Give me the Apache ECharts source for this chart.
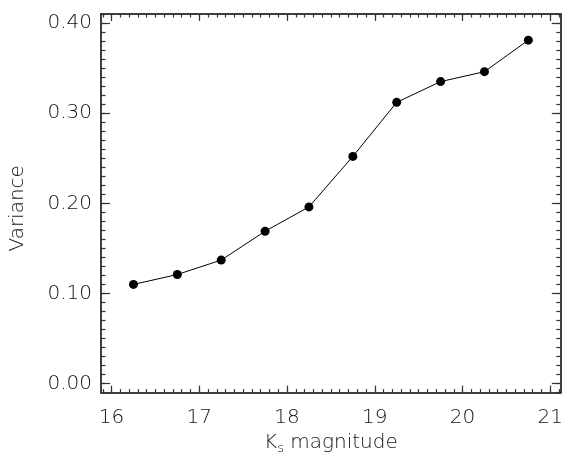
<!DOCTYPE html>
<html>
<head>
<meta charset="utf-8">
<script src="https://cdn.jsdelivr.net/npm/echarts@6/dist/echarts.min.js"></script>
<style>
  html, body { margin: 0; padding: 0; background: #fff; }
  #chart { width: 566px; height: 460px; }
</style>
</head>
<body>
<div id="chart"></div>
<script>
// data
var magnitude = [16.25, 16.75, 17.25, 17.75, 18.25, 18.75, 19.25, 19.75, 20.25, 20.75];
var variance = [0.110, 0.121, 0.137, 0.169, 0.196, 0.252, 0.312, 0.335, 0.346, 0.381];

var xMajor = [16, 17, 18, 19, 20, 21];
var yMajor = [0.00, 0.10, 0.20, 0.30, 0.40];
var xRange = [15.88, 21.12];
var yRange = [-0.01, 0.41];

// minor ticks every 0.1 mag / 0.01 in variance
var xMinor = [];
for (var i = 159; i <= 211; i++) xMinor.push(i / 10);
var yMinor = [];
for (var j = -1; j <= 41; j++) yMinor.push(j / 100);

var ink = '#333';
var textInk = '#111';
var font = 'DejaVu Sans';

function xAxisDef(pos, values, len, labels) {
    return {
        type: 'value', position: pos, min: xRange[0], max: xRange[1],
        axisLine: { show: true, onZero: false, lineStyle: { color: ink, width: 1.5 } },
        axisTick: { show: true, inside: true, length: len, customValues: values,
                    lineStyle: { color: ink, width: 1.2 } },
        axisLabel: { show: labels, customValues: xMajor, margin: 15,
                     color: textInk, fontFamily: font, fontSize: 20, fontWeight: 'lighter',
                     formatter: function(v) { return String(v); } },
        splitLine: { show: false }
    };
}

function yAxisDef(pos, values, len, labels) {
    return {
        type: 'value', position: pos, min: yRange[0], max: yRange[1],
        axisLine: { show: true, onZero: false, lineStyle: { color: ink, width: 1.5 } },
        axisTick: { show: true, inside: true, length: len, customValues: values,
                    lineStyle: { color: ink, width: 1.2 } },
        axisLabel: { show: labels, customValues: yMajor, margin: 9,
                     color: textInk, fontFamily: font, fontSize: 20, fontWeight: 'lighter',
                     formatter: function(v) { return v.toFixed(2); } },
        splitLine: { show: false }
    };
}

var xAxes = [
    xAxisDef('bottom', xMajor, 7, true),
    xAxisDef('bottom', xMinor, 3.5, false),
    xAxisDef('top', xMajor, 7, false),
    xAxisDef('top', xMinor, 3.5, false)
];
xAxes[0].name = '{k|K}{s|s}{k| magnitude}';
xAxes[0].nameLocation = 'middle';
xAxes[0].nameGap = 37;
xAxes[0].nameTextStyle = {
    rich: {
        k: { fontFamily: font, fontSize: 20, fontWeight: 'lighter', color: textInk },
        s: { fontFamily: font, fontSize: 13, fontWeight: 'lighter', color: textInk, padding: [12, 0, 0, 0] }
    }
};

var yAxes = [
    yAxisDef('left', yMajor, 9, true),
    yAxisDef('left', yMinor, 4.5, false),
    yAxisDef('right', yMajor, 9, false),
    yAxisDef('right', yMinor, 4.5, false)
];
yAxes[0].name = 'Variance';
yAxes[0].nameLocation = 'middle';
yAxes[0].nameGap = 73;
yAxes[0].nameTextStyle = { fontFamily: font, fontSize: 20, fontWeight: 'lighter', color: textInk, padding: [0, 10, 0, 0] };

var myChart = echarts.init(document.getElementById('chart'));

var points = [];
for (var k = 0; k < magnitude.length; k++) points.push([magnitude[k], variance[k]]);

myChart.setOption({
    backgroundColor: '#fff',
    animation: false,
    grid: { left: 101, right: 1, top: 14, bottom: 63 },
    xAxis: xAxes,
    yAxis: yAxes,
    series: [{
        type: 'line',
        data: points,
        symbol: 'circle',
        symbolSize: 9,
        lineStyle: { color: '#000', width: 1 },
        itemStyle: { color: '#000' }
    }]
});
</script>
</body>
</html>
